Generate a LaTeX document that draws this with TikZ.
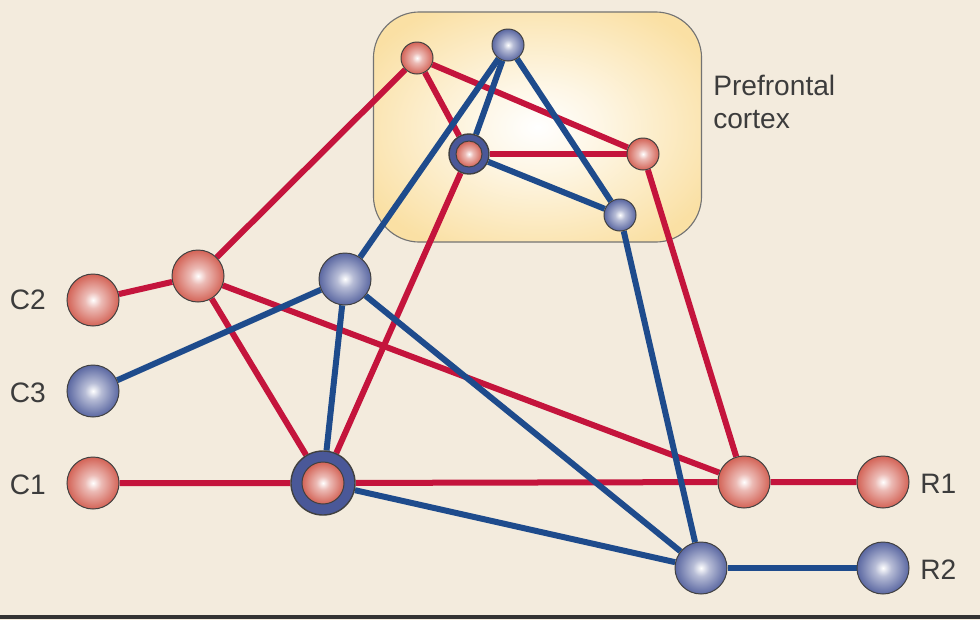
\documentclass[tikz,border=0pt]{standalone}
\usepackage{fontspec}
\setmainfont{Liberation Sans}
\usepackage{tikz}
\usetikzlibrary{backgrounds}

\definecolor{paper}{HTML}{F3EBDD}
\definecolor{ballred}{HTML}{CF5446}
\definecolor{ballblue}{HTML}{4A5898}
\definecolor{linered}{HTML}{C4143C}
\definecolor{lineblue}{HTML}{1E4B8C}
\definecolor{boxedge}{HTML}{FAE0A4}
\definecolor{labelgray}{HTML}{3C3C3C}

\pgfdeclareradialshading{redball}{\pgfpoint{0bp}{0bp}}{color(0bp)=(white); color(8bp)=(white!60!ballred); color(28bp)=(ballred); color(50bp)=(ballred)}
\pgfdeclareradialshading{blueball}{\pgfpoint{0bp}{0bp}}{color(0bp)=(white); color(8bp)=(white!60!ballblue); color(28bp)=(ballblue); color(50bp)=(ballblue)}
\pgfdeclareradialshading{pfcglow}{\pgfpoint{0bp}{0bp}}{color(0bp)=(white); color(10bp)=(white!70!boxedge); color(30bp)=(boxedge); color(50bp)=(boxedge)}

\tikzset{
  neuron/.style={circle, inner sep=0pt, draw=black!75, line width=0.7pt},
  rednode/.style={neuron, shading=redball, minimum size=1.3cm},
  bluenode/.style={neuron, shading=blueball, minimum size=1.3cm},
  smallred/.style={neuron, shading=redball, minimum size=0.8cm},
  smallblue/.style={neuron, shading=blueball, minimum size=0.8cm},
  ring/.style={neuron, fill=ballblue, line width=1pt},
  redwire/.style={draw=linered, line width=0.15cm},
  bluewire/.style={draw=lineblue, line width=0.15cm},
  tag/.style={text=labelgray, font=\fontsize{20}{23.4}\selectfont, inner sep=0pt}
}

\begin{document}
\begin{tikzpicture}[x=0.025cm, y=-0.025cm]
  \useasboundingbox (0,0) rectangle (980,620);
  \begin{pgfonlayer}{background}
    \fill[paper] (0,0) rectangle (980,620);
    \draw[black!80, line width=2.5pt] (0,617) -- (980,617);
    % Prefrontal cortex area
    \node[draw=black!55, line width=0.8pt, rounded corners=1.15cm, shading=pfcglow,
          minimum width=8.2cm, minimum height=5.75cm] (pfc) at (537.5,127) {};
  \end{pgfonlayer}
  \node[tag, anchor=north west, align=left] (pfclabel) at (713,75) {Prefrontal\\cortex};

  % Inputs
  \node[rednode] (c2) at (93,300) {};
  \node[bluenode] (c3) at (93,391) {};
  \node[rednode] (c1) at (93,483) {};
  \node[tag, anchor=east] (c2label) at (46,300) {C2};
  \node[tag, anchor=east] (c3label) at (46,393) {C3};
  \node[tag, anchor=east] (c1label) at (46,485) {C1};

  % Hidden units
  \node[rednode] (a) at (198,276) {};
  \node[bluenode] (b) at (345,279) {};
  \node[ring, minimum size=1.6cm] (d) at (323,483) {};
  \node[rednode, minimum size=1.05cm] (din) at (d.center) {};
  \node[rednode] (e) at (744,482) {};
  \node[bluenode] (f) at (701,568) {};

  % Prefrontal units
  \node[smallred] (p1) at (417,58) {};
  \node[smallblue] (p2) at (508,45) {};
  \node[ring, minimum size=1.0cm] (p3) at (469,154) {};
  \node[smallred, minimum size=0.65cm] (p3in) at (p3.center) {};
  \node[smallred] (p4) at (643,154) {};
  \node[smallblue] (p5) at (620,215) {};

  % Responses
  \node[rednode] (r1) at (883,482) {};
  \node[bluenode] (r2) at (883,568) {};
  \node[tag, anchor=west] (r1label) at (920,484) {R1};
  \node[tag, anchor=west] (r2label) at (920,570) {R2};

  % Wires
  \begin{scope}[on background layer]
    \draw[redwire] (c2) -- (a);
    \draw[redwire] (a) -- (p1);
    \draw[redwire] (a) -- (e);
    \draw[redwire] (a) -- (d);
    \draw[redwire] (c1) -- (d) -- (e) -- (r1);
    \draw[redwire] (p1) -- (p3);
    \draw[redwire] (p1) -- (p4);
    \draw[redwire] (p3) -- (p4);
    \draw[redwire] (p4) -- (e);
    \draw[redwire] (d) -- (p3);
    \draw[bluewire] (c3) -- (b);
    \draw[bluewire] (b) -- (p2);
    \draw[bluewire] (b) -- (d);
    \draw[bluewire] (b) -- (f);
    \draw[bluewire] (d) -- (f);
    \draw[bluewire] (f) -- (r2);
    \draw[bluewire] (p2) -- (p3);
    \draw[bluewire] (p2) -- (p5);
    \draw[bluewire] (p3) -- (p5);
    \draw[bluewire] (p5) -- (f);
  \end{scope}
\end{tikzpicture}
\end{document}
